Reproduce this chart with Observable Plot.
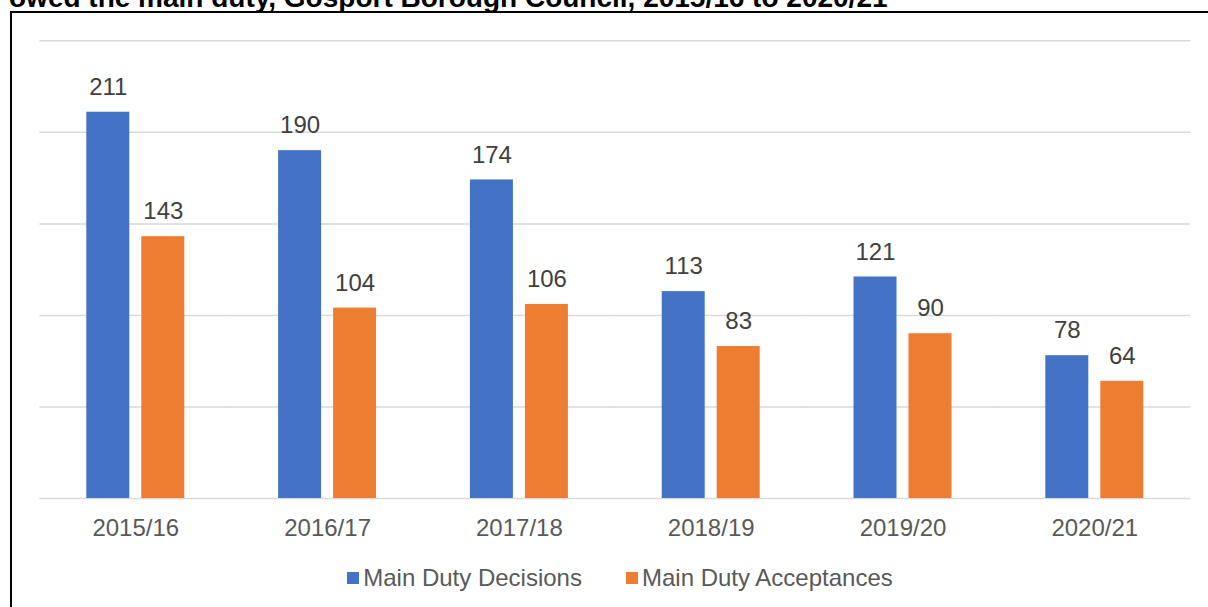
<!DOCTYPE html>
<html>
<head>
<meta charset="utf-8">
<script src="https://cdn.jsdelivr.net/npm/d3@7"></script>
<script src="https://cdn.jsdelivr.net/npm/@observablehq/plot@0.6"></script>
<style>
  html, body { margin: 0; padding: 0; background: #fff; }
  #wrap { position: relative; width: 1208px; height: 607px; overflow: hidden; font-family: "Liberation Sans", Arial, sans-serif; }
  #title { position: absolute; left: 9px; top: -16px; font-size: 28px; font-weight: bold; color: #000; white-space: nowrap; line-height: 28px; }
  #border { position: absolute; left: 10px; top: 11px; width: 1400px; height: 800px; border: 2px solid #000; box-sizing: border-box; }
  #chart { position: absolute; left: 0; top: 0; }
  #legend { position: absolute; left: 0; width: 1208px; top: 564px; height: 28px; display: flex; justify-content: center; align-items: center; padding-left: 32px; box-sizing: border-box; font-size: 24px; color: #595959; }
  .item { display: flex; align-items: center; margin: 0 22px; }
  .sw { width: 12px; height: 12px; margin-right: 4px; }
</style>
</head>
<body>
<div id="wrap">
  <div id="title">owed the main duty, Gosport Borough Council, 2015/16 to 2020/21</div>
  <div id="border"></div>
  <div id="chart"></div>
  <div id="legend"></div>
</div>
<script>
const years = ["2015/16", "2016/17", "2017/18", "2018/19", "2019/20", "2020/21"];
const decisions = [211, 190, 174, 113, 121, 78];
const acceptances = [143, 104, 106, 83, 90, 64];
const series = ["Main Duty Decisions", "Main Duty Acceptances"];
const colors = ["#4472C4", "#ED7D31"];
const yTicks = [0, 50, 100, 150, 200, 250];

const data = years.flatMap((yr, i) => [
  {year: yr, series: series[0], value: decisions[i]},
  {year: yr, series: series[1], value: acceptances[i]}
]);

const chart = Plot.plot({
  width: 1208,
  height: 545,
  marginLeft: 39.4,
  marginRight: 17.8,
  marginTop: 40.3,
  marginBottom: 47,
  style: {fontFamily: "'Liberation Sans', Arial, sans-serif", fontSize: "24px", color: "#595959", background: "transparent", overflow: "visible"},
  fx: {domain: years, padding: 0, round: false, label: null, axis: "bottom", tickSize: 0, tickPadding: 20},
  x: {domain: series, paddingInner: 0.218, paddingOuter: 0.853, round: false, axis: null},
  y: {domain: [0, 250], axis: null},
  color: {domain: series, range: colors},
  marks: [
    Plot.ruleY(yTicks, {stroke: "#d9d9d9", strokeWidth: 1.5}),
    Plot.barY(data, {fx: "year", x: "series", y: "value", fill: "series"}),
    Plot.text(data, {fx: "year", x: "series", y: "value", text: d => String(d.value), dy: -25, fill: "#404040", fontSize: 24})
  ]
});
document.getElementById("chart").appendChild(chart);

const legend = document.getElementById("legend");
series.forEach((s, i) => {
  const item = document.createElement("div");
  item.className = "item";
  const sw = document.createElement("div");
  sw.className = "sw";
  sw.style.background = colors[i];
  const lab = document.createElement("span");
  lab.textContent = s;
  item.appendChild(sw);
  item.appendChild(lab);
  legend.appendChild(item);
});
</script>
</body>
</html>
